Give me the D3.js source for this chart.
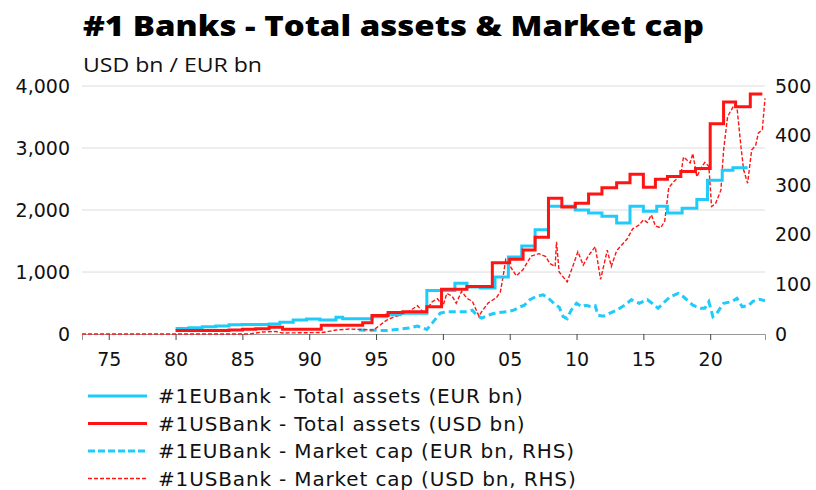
<!DOCTYPE html>
<html>
<head>
<meta charset="utf-8">
<script src="https://cdn.jsdelivr.net/npm/d3@7"></script>
<style>
  body { margin: 0; background: #fff; }
</style>
</head>
<body>
<div id="chart"></div>
<script>
// decimal years + values
var euAssetYears = [1980, 1981, 1982, 1983, 1984, 1985, 1987, 1987.8, 1988.8, 1989.8, 1990.8, 1992, 1992.5, 1994.7, 1995.8, 1996.8, 1998.8, 2000.9, 2001.8, 2002.8, 2003.9, 2004.9, 2005.9, 2006.9, 2007.9, 2009.9, 2010.9, 2011.9, 2013, 2014, 2015, 2016, 2016.8, 2017.9, 2019, 2019.8, 2020.9, 2021.7, 2022.8];
var euAssetValues = [90, 100, 115, 130, 150, 155, 160, 190, 225, 240, 225, 270, 245, 280, 310, 335, 700, 820, 760, 740, 920, 1240, 1420, 1680, 2060, 2000, 1950, 1900, 1790, 2060, 1980, 2060, 1950, 2030, 2170, 2480, 2640, 2680, 2680];

var usAssetYears = [1980, 1984, 1985, 1986, 1987, 1988, 1990.9, 1994, 1994.7, 1995.9, 1997, 1998.8, 1999.9, 2001.8, 2003.7, 2005, 2006, 2006.9, 2007.9, 2008.9, 2009.9, 2010.9, 2011.9, 2013, 2014, 2015, 2015.9, 2016.8, 2017.8, 2018.9, 2020, 2021, 2021.9, 2023, 2023.9];
var usAssetValues = [55, 65, 75, 85, 110, 75, 140, 180, 300, 345, 360, 440, 720, 765, 1150, 1205, 1355, 1560, 2190, 2050, 2110, 2260, 2360, 2440, 2575, 2365, 2495, 2540, 2620, 2670, 3390, 3740, 3665, 3870, 3870];

var euCapYears = [1993.7, 1995.8, 1997.5, 1998.1, 1998.8, 1999.2, 1999.8, 2000.3, 2001, 2001.8, 2002.2, 2002.6, 2002.9, 2003.4, 2004, 2004.8, 2005.3, 2005.8, 2006.1, 2006.5, 2007, 2007.5, 2007.9, 2008.3, 2008.7, 2009, 2009.3, 2009.6, 2010, 2010.4, 2010.7, 2011.1, 2011.4, 2011.6, 2012, 2012.5, 2013, 2013.6, 2014.1, 2014.7, 2015.3, 2015.6, 2016.1, 2016.6, 2017, 2017.6, 2018, 2018.7, 2019.3, 2019.6, 2019.9, 2020.2, 2020.5, 2021, 2021.6, 2022, 2022.4, 2022.9, 2023.2, 2023.7, 2024.1];
var euCapValues = [8, 7, 12, 16, 9, 22, 42, 45, 45, 45, 48, 36, 32, 38, 43, 45, 48, 55, 58, 69, 76, 79, 72, 62, 54, 35, 31, 48, 62, 55, 58, 55, 57, 38, 36, 42, 48, 58, 69, 62, 69, 63, 52, 65, 75, 82, 75, 58, 52, 52, 65, 35, 42, 62, 65, 72, 55, 58, 66, 70, 67];

var usCapYears = [1973, 1985.5, 1986.5, 1987.5, 1988, 1991, 1992, 1993, 1994, 1994.8, 1995.8, 1996.3, 1996.8, 1997.5, 1998.1, 1998.6, 1999.2, 1999.6, 2000, 2000.3, 2000.7, 2001, 2001.4, 2001.8, 2002.2, 2002.7, 2002.9, 2003.4, 2004, 2004.3, 2004.5, 2004.7, 2005, 2005.5, 2006, 2006.6, 2007.2, 2007.7, 2008, 2008.4, 2008.5, 2008.7, 2009.3, 2009.7, 2010.1, 2010.5, 2010.9, 2011.4, 2011.8, 2012.3, 2012.6, 2013, 2013.4, 2013.8, 2014.2, 2014.7, 2015, 2015.3, 2015.6, 2015.9, 2016.3, 2016.6, 2016.9, 2017.3, 2017.8, 2018, 2018.3, 2018.5, 2018.7, 2019, 2019.3, 2019.6, 2019.9, 2020.1, 2020.4, 2020.8, 2021, 2021.3, 2021.5, 2021.8, 2022, 2022.3, 2022.5, 2022.8, 2023.1, 2023.4, 2023.6, 2023.9, 2024.1];
var usCapValues = [0, 0, 4, 5, 2, 3, 8, 10, 9, 8, 28, 34, 38, 46, 57, 42, 65, 71, 56, 82, 76, 62, 86, 72, 66, 36, 45, 63, 73, 85, 115, 150, 138, 117, 130, 157, 162, 156, 142, 136, 186, 125, 105, 135, 166, 139, 158, 176, 110, 169, 136, 168, 180, 192, 212, 220, 230, 225, 240, 218, 214, 228, 295, 308, 320, 357, 350, 345, 364, 317, 334, 346, 338, 257, 263, 290, 370, 438, 448, 462, 458, 378, 331, 304, 371, 380, 405, 412, 475];

var xTickYears = [1975, 1980, 1985, 1990, 1995, 2000, 2005, 2010, 2015, 2020];
var leftTicks = [0, 1000, 2000, 3000, 4000];
var rightTicks = [0, 100, 200, 300, 400, 500];
var legendLabels = ["#1EUBank - Total assets (EUR bn)", "#1USBank - Total assets (USD bn)", "#1EUBank - Market cap (EUR bn, RHS)", "#1USBank - Market cap (USD bn, RHS)"];

var W = 816, H = 490;
var margin = {top: 86, right: 51, bottom: 156, left: 82};
var width = W - margin.left - margin.right,
    height = H - margin.top - margin.bottom;

var cyan = "#1fcbfa", red = "#ff1414";
var lblFont = "'DejaVu Sans', Verdana, sans-serif";

var svg = d3.select("#chart").append("svg")
    .attr("width", W).attr("height", H)
    .style("font-family", lblFont);

svg.append("text").attr("x", 83).attr("y", 36)
    .attr("textLength", 621).attr("lengthAdjust", "spacingAndGlyphs")
    .style("font-family", "'Open Sans', sans-serif")
    .style("font-weight", 800).style("font-size", "29px").attr("fill", "#000")
    .text("#1 Banks - Total assets & Market cap");
svg.append("text").attr("x", 83).attr("y", 72)
    .attr("textLength", 179).attr("lengthAdjust", "spacingAndGlyphs")
    .style("font-family", "'Open Sans', sans-serif")
    .style("font-size", "20px").attr("fill", "#111")
    .text("USD bn / EUR bn");

var g = svg.append("g").attr("transform", "translate(" + margin.left + "," + margin.top + ")");

var x = d3.scaleLinear().domain([1973, 2024.1]).range([0, width]);
var yL = d3.scaleLinear().domain([0, 4000]).range([height, 0]);
var yR = d3.scaleLinear().domain([0, 500]).range([height, 0]);

// gridlines
g.append("g").selectAll("line").data(leftTicks.slice(1)).enter().append("line")
    .attr("x1", 0).attr("x2", width)
    .attr("y1", function(d) { return yL(d); }).attr("y2", function(d) { return yL(d); })
    .attr("stroke", "#dcdcdc").attr("stroke-width", 1);

// left axis labels
var la = g.append("g").call(d3.axisLeft(yL).tickValues(leftTicks).tickSize(0).tickPadding(12).tickFormat(d3.format(",")));
la.select(".domain").remove();
la.selectAll("text").style("font-size", "19px").style("font-family", lblFont).attr("fill", "#111");

// right axis labels
var ra = g.append("g").attr("transform", "translate(" + width + ",0)")
    .call(d3.axisRight(yR).tickValues(rightTicks).tickSize(0).tickPadding(10));
ra.select(".domain").remove();
ra.selectAll("text").style("font-size", "19px").style("font-family", lblFont).attr("fill", "#111");

// x axis
var xa = g.append("g").attr("transform", "translate(0," + height + ")")
    .call(d3.axisBottom(x).tickValues(xTickYears).tickSize(6).tickPadding(13)
      .tickFormat(function(d) { return String(d % 100).padStart(2, "0"); }));
xa.select(".domain").attr("stroke", "#999");
xa.selectAll(".tick line").attr("stroke", "#444");
xa.selectAll("text").style("font-size", "19px").style("font-family", lblFont).attr("fill", "#111");

function pts(years, vals) { return years.map(function(d, i) { return [d, vals[i]]; }); }

var stepL = d3.line().curve(d3.curveStepAfter)
    .x(function(d) { return x(d[0]); }).y(function(d) { return yL(d[1]); });
var lineR = d3.line()
    .x(function(d) { return x(d[0]); }).y(function(d) { return yR(d[1]); });

g.append("path").datum(pts(euCapYears, euCapValues))
    .attr("fill", "none").attr("stroke", cyan).attr("stroke-width", 3)
    .attr("stroke-dasharray", "7,4").attr("d", lineR);
g.append("path").datum(pts(usCapYears, usCapValues))
    .attr("fill", "none").attr("stroke", red).attr("stroke-width", 1.4)
    .attr("stroke-dasharray", "4,2").attr("d", lineR);
g.append("path").datum(pts(euAssetYears, euAssetValues))
    .attr("fill", "none").attr("stroke", cyan).attr("stroke-width", 3).attr("d", stepL);
g.append("path").datum(pts(usAssetYears, usAssetValues))
    .attr("fill", "none").attr("stroke", red).attr("stroke-width", 3).attr("d", stepL);

// legend
var legStyles = [
  {c: cyan, w: 3, dash: null},
  {c: red, w: 3, dash: null},
  {c: cyan, w: 3, dash: "7,3"},
  {c: red, w: 1.4, dash: "4,2"}
];
var leg = svg.append("g").selectAll("g").data(legendLabels).enter().append("g")
    .attr("transform", function(d, i) { return "translate(88," + (396 + i * 27.5) + ")"; });
leg.append("line").attr("x1", 0).attr("x2", 59)
    .attr("stroke", function(d, i) { return legStyles[i].c; })
    .attr("stroke-width", function(d, i) { return legStyles[i].w; })
    .attr("stroke-dasharray", function(d, i) { return legStyles[i].dash; });
leg.append("text").attr("x", 70).attr("dy", "0.36em")
    .style("font-family", lblFont).style("font-size", "20px")
    .style("letter-spacing", "0.85px").attr("fill", "#111")
    .text(function(d) { return d; });
</script>
</body>
</html>
